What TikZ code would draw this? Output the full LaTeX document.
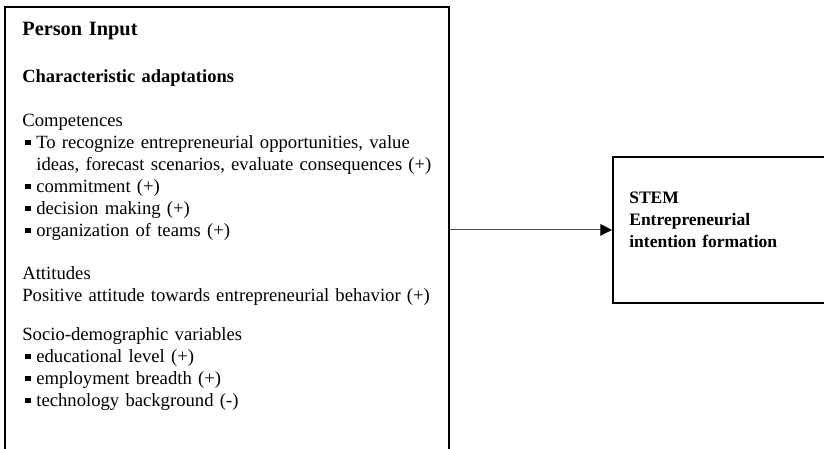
\documentclass[tikz,border=0pt]{standalone}
\usepackage{fontspec}
\setmainfont{Liberation Serif}
\usetikzlibrary{arrows.meta, positioning}
\newcommand{\sqbul}{\makebox[8.4pt][l]{\hspace{1.8pt}\rule[1.8pt]{3.2pt}{3.2pt}}}

\begin{document}
\begin{tikzpicture}[x=0.6pt, y=-0.6pt,
  box/.style={draw, line width=1.1pt, inner sep=0pt, anchor=north west},
  txt/.style={anchor=base west, inner sep=0pt, align=left, text width=270pt,
    font=\fontsize{11.2}{13.2}\selectfont},
  hd/.style={txt, font=\bfseries\fontsize{11.1}{13.4}\selectfont}]
  \useasboundingbox (0,0) rectangle (824,448);
  \clip (0,0) rectangle (824,448);

  % boxes
  \node[box, minimum width=266.4pt, minimum height=272.4pt] (input) at (4,6) {};
  \node[box, minimum width=134pt, minimum height=87.6pt] (stem) at (612,156) {};

  % left box text
  \node[hd, font=\bfseries\fontsize{12.2}{14}\selectfont] (title) at (22,35) {Person Input};
  \node[hd] (adapt) at (22,82) {Characteristic adaptations};
  \node[txt] (comp) at (22,126) {Competences\\
    \sqbul To recognize entrepreneurial opportunities, value\\
    \hspace*{8.4pt}ideas, forecast scenarios, evaluate consequences (+)\\
    \sqbul commitment (+)\\
    \sqbul decision making (+)\\
    \sqbul organization of teams (+)};
  \node[txt] (att) at (22,279) {Attitudes\\
    Positive attitude towards entrepreneurial behavior (+)};
  \node[txt] (socio) at (22,340) {Socio-demographic variables\\
    \sqbul educational level (+)\\
    \sqbul employment breadth (+)\\
    \sqbul technology background (-)};

  % right box text
  \node[hd, text width=120pt, font=\bfseries\fontsize{10.5}{13.4}\selectfont] (stemtxt) at (629,203) {STEM\\
    Entrepreneurial\\
    intention formation};

  \draw[-{Triangle[length=7pt,width=7pt,black]}, line width=0.6pt, black!70]
    (input.east |- stem.west) -- (stem.west);
\end{tikzpicture}
\end{document}
